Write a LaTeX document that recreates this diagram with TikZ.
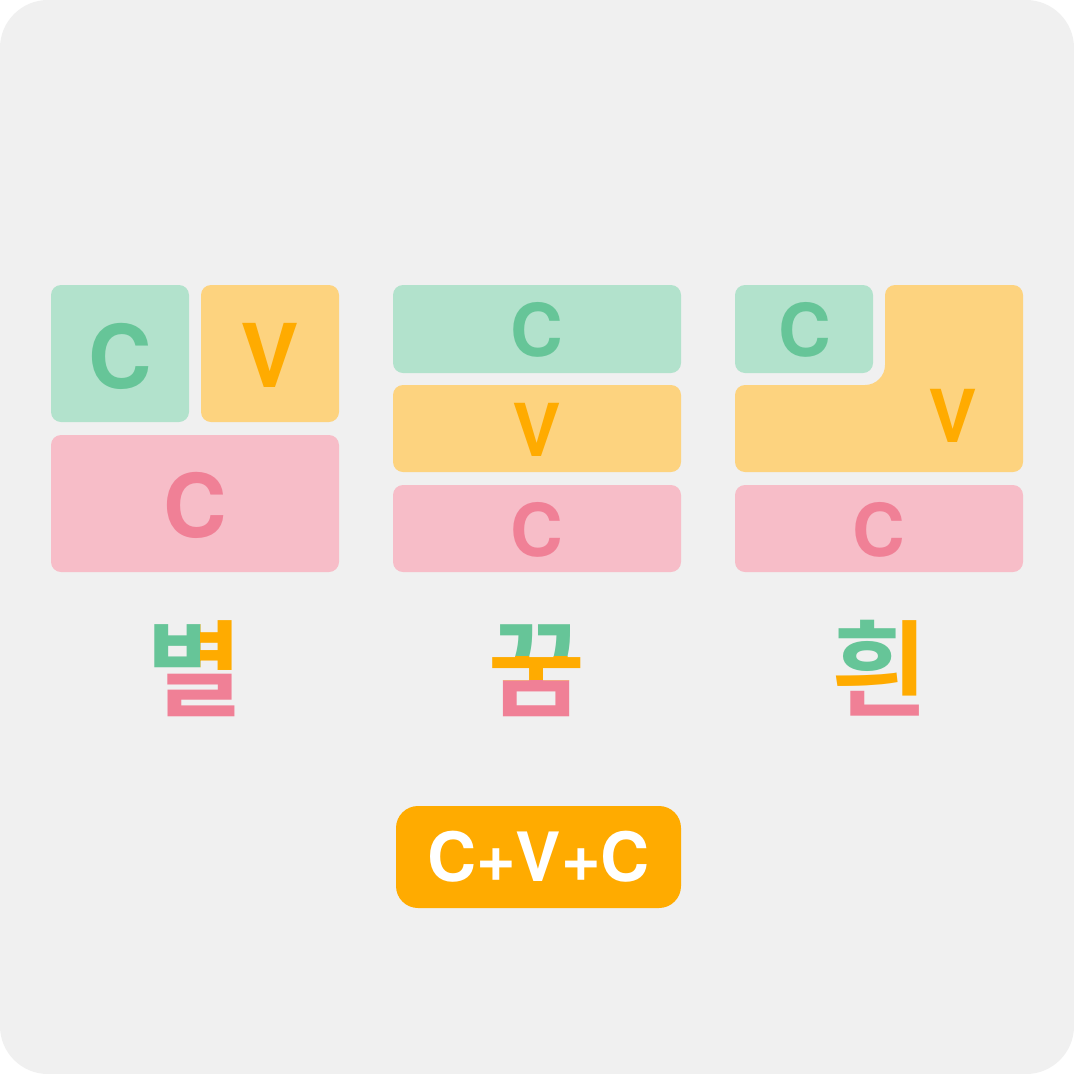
\documentclass[tikz,border=0pt]{standalone}
\usepackage{fontspec}
\setmainfont{TeX Gyre Heros}
\setsansfont{TeX Gyre Heros}
\newfontfamily\krfont{Noto Sans CJK KR}[BoldFont={Noto Sans CJK KR Bold}]
\definecolor{bg}{HTML}{F0F0F0}
\definecolor{gbox}{HTML}{B2E2CC}
\definecolor{gtxt}{HTML}{66C598}
\definecolor{obox}{HTML}{FDD37F}
\definecolor{otxt}{HTML}{FFAB00}
\definecolor{pbox}{HTML}{F7BDC8}
\definecolor{ptxt}{HTML}{F08096}
\begin{document}
\begin{tikzpicture}[x=1pt,y=-1pt,
  cell/.style={rounded corners=10pt},
  lbl/.style={inner sep=0pt,font=\bfseries\fontsize{#1}{#1}\selectfont},
  kor/.style={inner sep=0pt,anchor=base,font=\krfont\bfseries\fontsize{105}{105}\selectfont}]
\useasboundingbox (0,0) rectangle (1074,1074);
\fill[white] (0,0) rectangle (1074,1074);
\fill[bg,rounded corners=48pt] (0,0) rectangle (1074,1074);
% left panel
\fill[gbox,cell] (51,285) rectangle (189,422);
\fill[obox,cell] (201,285) rectangle (339,422);
\fill[pbox,cell] (51,435) rectangle (339,572);
\node[lbl=88,text=gtxt] (lc1) at (120,356) {C};
\node[lbl=88,text=otxt] (lv) at (270,355) {V};
\node[lbl=88,text=ptxt] (lc2) at (195,505) {C};
% middle panel
\fill[gbox,cell] (393,285) rectangle (681,373);
\fill[obox,cell] (393,385) rectangle (681,472);
\fill[pbox,cell] (393,485) rectangle (681,572);
\node[lbl=73,text=gtxt] (mc1) at (537,330) {C};
\node[lbl=73,text=otxt] (mv) at (537,430) {V};
\node[lbl=73,text=ptxt] (mc2) at (537,530) {C};
% right panel
\fill[gbox,cell] (735,285) rectangle (873,373);
\fill[obox] (735,395) .. controls (735,389.5) and (739.5,385) .. (745,385) -- (865,385)
  .. controls (876,385) and (885,376) .. (885,365) -- (885,295)
  .. controls (885,289.5) and (889.5,285) .. (895,285) -- (1013,285)
  .. controls (1018.5,285) and (1023,289.5) .. (1023,295) -- (1023,462)
  .. controls (1023,467.5) and (1018.5,472) .. (1013,472) -- (745,472)
  .. controls (739.5,472) and (735,467.5) .. (735,462) -- cycle;
\fill[pbox,cell] (735,485) rectangle (1023,572);
\node[lbl=73,text=gtxt] (rc1) at (805,330) {C};
\node[lbl=73,text=otxt] (rv) at (953,416) {V};
\node[lbl=73,text=ptxt] (rc2) at (879,530) {C};
% Korean syllables, coloured per jamo
\begin{scope}\clip (140,600) rectangle (200.5,670);
\node[kor,text=gtxt] (byeol1) at (195,708.5) {별};\end{scope}
\begin{scope}\clip (200.5,600) rectangle (260,670);
\node[kor,text=otxt] (byeol2) at (195,708.5) {별};\end{scope}
\begin{scope}\clip (140,670) rectangle (260,740);
\node[kor,text=ptxt] (byeol3) at (195,708.5) {별};\end{scope}
\begin{scope}\clip (470,600) rectangle (610,656);
\node[kor,text=gtxt] (kkum1) at (537,708.5) {꿈};\end{scope}
\begin{scope}\clip (470,656) rectangle (610,680);
\node[kor,text=otxt] (kkum2) at (537,708.5) {꿈};\end{scope}
\begin{scope}\clip (470,680) rectangle (610,740);
\node[kor,text=ptxt] (kkum3) at (537,708.5) {꿈};\end{scope}
\begin{scope}\clip (820,600) rectangle (899,672);
\node[kor,text=gtxt] (huin1) at (880,708.5) {흰};\end{scope}
\begin{scope}\clip (899,600) -- (940,600) -- (940,697) -- (899,697) -- (899,689) -- (820,689) -- (820,672) -- (899,672) -- cycle;
\node[kor,text=otxt] (huin2) at (880,708.5) {흰};\end{scope}
\begin{scope}\clip (820,689) -- (899,689) -- (899,697) -- (940,697) -- (940,740) -- (820,740) -- cycle;
\node[kor,text=ptxt] (huin3) at (880,708.5) {흰};\end{scope}
% formula pill
\node[fill=otxt,rounded corners=22pt,minimum width=285pt,minimum height=102pt,inner sep=0pt,
  text=white,font=\bfseries\fontsize{68}{68}\selectfont] (pill) at (538.5,857) {C+V+C};
\end{tikzpicture}
\end{document}
